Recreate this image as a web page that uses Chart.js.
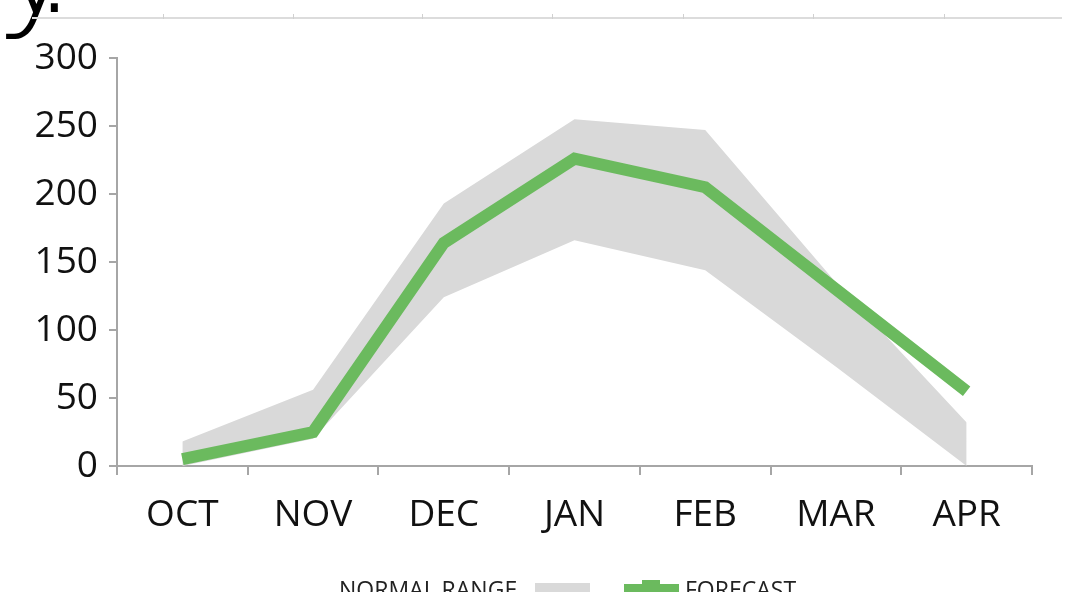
<!DOCTYPE html>
<html>
<head>
<meta charset="utf-8">
<script src="https://cdn.jsdelivr.net/npm/chart.js@4/dist/chart.umd.min.js"></script>
<style>
  html, body { margin: 0; padding: 0; background: #fff; width: 1079px; height: 592px; overflow: hidden; }
  #wrap { position: absolute; left: 0; top: 0; width: 1079px; height: 592px; }
  #frag { position: absolute; left: -5px; top: -106px; font-family: "DejaVu Sans", sans-serif; font-weight: 200; font-size: 140px; color: #000; line-height: 1; white-space: nowrap; }
  #frag .y { letter-spacing: -47px; }
  #topline { position: absolute; left: 32px; top: 17px; width: 1030px; height: 2px; background: #dcdcdc; }
  .tk { position: absolute; top: 14px; width: 1px; height: 5px; background: #d0d0d0; }
  .lg { position: absolute; top: 573px; font-family: "Open Sans", sans-serif; font-size: 23px; color: #222; white-space: nowrap; }
  .box { position: absolute; }
</style>
</head>
<body>
<div id="wrap"><canvas id="c" width="1079" height="592"></canvas></div>
<div id="frag"><span class="y">y</span>:</div>
<div id="topline"></div>
<div id="legend">
  <div class="lg" style="left:339px;">NORMAL RANGE</div>
  <div class="box" style="left:535px; top:583px; width:55px; height:20px; background:#d9d9d9;"></div>
  <div class="box" style="left:624px; top:584px; width:55px; height:12px; background:#6bba5e;"></div>
  <div class="box" style="left:642px; top:580px; width:18px; height:16px; background:#6bba5e;"></div>
  <div class="lg" style="left:685px;">FORECAST</div>
</div>
<script>
const categories = ["OCT", "NOV", "DEC", "JAN", "FEB", "MAR", "APR"];
const forecast   = [5, 25, 164, 226, 205, 130, 55];
const normalLow  = [0, 20, 124, 166, 144, 73, 0];
const normalHigh = [18, 56, 193, 255, 247, 135, 32];
const yTicks     = [0, 50, 100, 150, 200, 250, 300];
const topTickXs  = [163, 293, 422, 552, 683, 813, 944];

// faint ticks on the top rule
topTickXs.forEach(x => {
  const d = document.createElement('div');
  d.className = 'tk';
  d.style.left = x + 'px';
  document.body.appendChild(d);
});

const axisColor = '#a6a6a6';
const tickFont = { family: "'Open Sans', sans-serif", size: 37 };

new Chart(document.getElementById('c'), {
  type: 'line',
  data: {
    labels: categories,
    datasets: [
      {
        label: 'FORECAST',
        data: forecast,
        borderColor: '#6bba5e',
        backgroundColor: '#6bba5e',
        borderWidth: 12,
        borderCapStyle: 'butt',
        borderJoinStyle: 'miter',
        tension: 0,
        pointRadius: 0,
        fill: false,
        order: 0
      },
      {
        label: 'low',
        data: normalLow,
        borderWidth: 0,
        borderColor: 'rgba(0,0,0,0)',
        pointRadius: 0,
        fill: false,
        tension: 0,
        order: 2
      },
      {
        label: 'NORMAL RANGE',
        data: normalHigh,
        borderWidth: 0,
        borderColor: 'rgba(0,0,0,0)',
        backgroundColor: '#d9d9d9',
        pointRadius: 0,
        fill: 1,
        tension: 0,
        order: 1
      }
    ]
  },
  options: {
    responsive: false,
    devicePixelRatio: 1,
    animation: false,
    layout: { padding: { top: 58, right: 47, bottom: 36, left: 0 } },
    plugins: {
      legend: { display: false },
      tooltip: { enabled: false },
      filler: { propagate: false }
    },
    scales: {
      x: {
        type: 'category',
        offset: true,
        border: { display: true, color: axisColor, width: 2 },
        grid: { display: true, drawOnChartArea: false, drawTicks: true, tickLength: 9, color: axisColor, lineWidth: 2, offset: true },
        ticks: { color: '#111', font: tickFont, padding: 18, maxRotation: 0, autoSkip: false },
        afterFit: (s) => { s.height = 90; }
      },
      y: {
        min: 0,
        max: 300,
        afterBuildTicks: (s) => { s.ticks = yTicks.map(v => ({ value: v })); },
        border: { display: true, color: axisColor, width: 2 },
        grid: { display: true, drawOnChartArea: false, drawTicks: true, tickLength: 8, color: axisColor, lineWidth: 2 },
        ticks: { color: '#111', font: tickFont, padding: 11 },
        afterFit: (s) => { s.width = 117; }
      }
    }
  }
});
</script>
</body>
</html>
